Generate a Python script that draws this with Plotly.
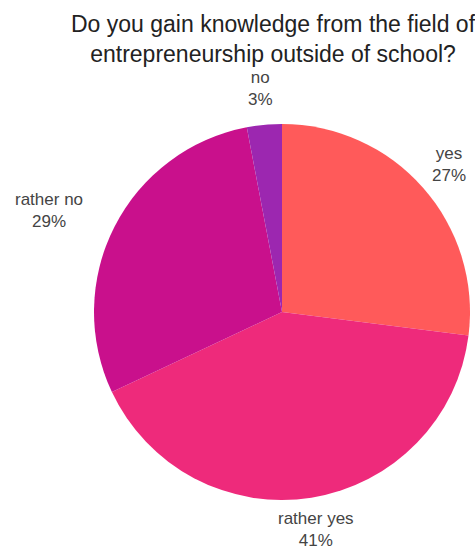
import math
import plotly.graph_objects as go

labels = ["yes", "rather yes", "rather no", "no"]
values = [27, 41, 29, 3]
colors = ["#FF5A5A", "#EE2A7B", "#C9108C", "#9C27B0"]
title_text = "Do you gain knowledge from the field of<br>entrepreneurship outside of school?"

# layout constants (pixels / degrees)
W, H = 475, 550
cx, cy, r = 282, 312, 188
label_dist = [223, 220, 254, 224]      # distance of each label centre from the pie centre
label_angle_adj = [0, 0, -3.4, 0]      # small angular nudge of each label (degrees)

FONT = "Liberation Sans, Arial, sans-serif"

fig = go.Figure(go.Pie(
    labels=labels,
    values=values,
    sort=False,
    direction="clockwise",
    rotation=0,
    marker=dict(colors=colors, line=dict(width=0)),
    textinfo="none",
    hoverinfo="label+percent",
    domain=dict(x=[(cx - r) / W, min(1, (cx + r) / W)], y=[(H - cy - r) / H, (H - cy + r) / H]),
))

total = sum(values)
cum = 0
annotations = []
for lab, v, d, adj in zip(labels, values, label_dist, label_angle_adj):
    mid = (cum + v / 2) / total * 2 * math.pi + math.radians(adj)
    cum += v
    px = cx + d * math.sin(mid)
    py = cy - d * math.cos(mid)
    pct = round(v / total * 100)
    annotations.append(dict(
        text=f"{lab}<br>{pct}%", x=px / W, y=1 - py / H, xref="paper", yref="paper",
        xanchor="center", yanchor="middle", showarrow=False,
        font=dict(size=17, color="#444444", family=FONT),
    ))

annotations.append(dict(
    text=title_text, x=273 / W, y=1 - 39 / H, xref="paper", yref="paper",
    xanchor="center", yanchor="middle", showarrow=False,
    font=dict(size=23, color="#222222", family=FONT),
))

fig.update_layout(
    width=W, height=H,
    margin=dict(l=0, r=0, t=0, b=0),
    paper_bgcolor="white",
    showlegend=False,
    font=dict(family=FONT),
    annotations=annotations,
)

fig.write_html("out.html")
